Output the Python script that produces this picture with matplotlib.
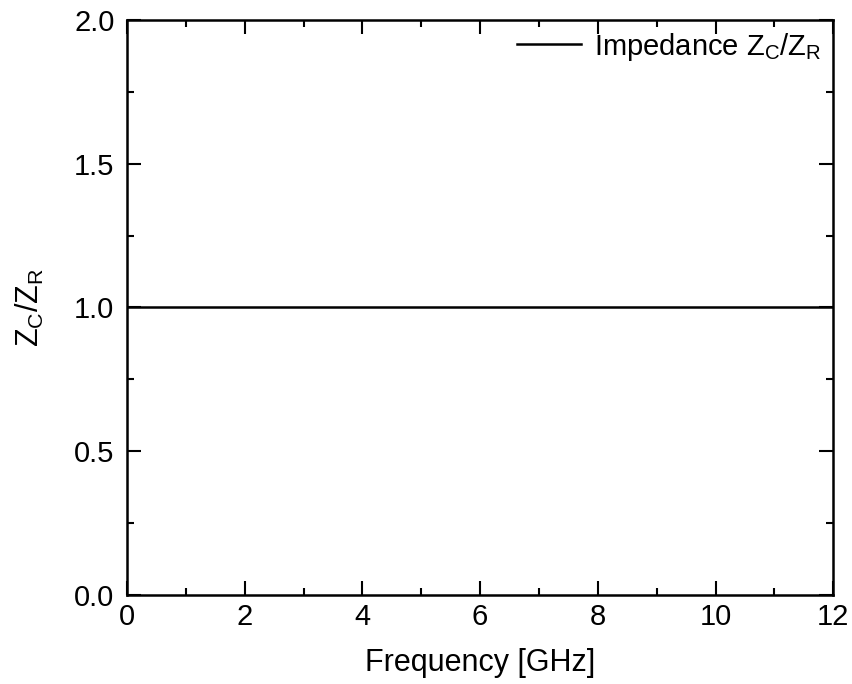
import matplotlib.pyplot as plt
from matplotlib.ticker import MultipleLocator

plt.rcParams['font.family'] = ['Liberation Sans', 'DejaVu Sans']
plt.rcParams['mathtext.fontset'] = 'custom'
plt.rcParams['mathtext.rm'] = 'Liberation Sans'
plt.rcParams['mathtext.it'] = 'Liberation Sans'

# Data: ratio of characteristic to reference impedance vs frequency
freq_ghz = [0, 1, 2, 3, 4, 5, 6, 7, 8, 9, 10, 11, 12]
z_ratio = [1.0, 1.0, 1.0, 1.0, 1.0, 1.0, 1.0, 1.0, 1.0, 1.0, 1.0, 1.0, 1.0]

fig = plt.figure(figsize=(8.52, 6.84), dpi=100)
ax = fig.add_axes([0.149, 0.130, 0.829, 0.841])

ax.plot(freq_ghz, z_ratio, color='black', lw=1.8, label=r'Impedance Z$_\mathrm{C}$/Z$_\mathrm{R}$')

ax.set_xlim(0, 12)
ax.set_ylim(0, 2.0)
ax.xaxis.set_major_locator(MultipleLocator(2))
ax.xaxis.set_minor_locator(MultipleLocator(1))
ax.yaxis.set_major_locator(MultipleLocator(0.5))
ax.yaxis.set_minor_locator(MultipleLocator(0.25))
ax.yaxis.set_major_formatter(plt.FormatStrFormatter('%.1f'))

ax.tick_params(which='both', direction='in', top=True, right=True, width=1.5, labelsize=21)
ax.tick_params(which='major', length=10)
ax.tick_params(which='minor', length=5)
ax.tick_params(axis='y', which='major', pad=9)
ax.tick_params(axis='x', which='major', pad=6)
for s in ax.spines.values():
    s.set_linewidth(1.8)

ax.set_xlabel('Frequency [GHz]', fontsize=22, labelpad=12)
ax.set_ylabel(r'Z$_\mathrm{C}$/Z$_\mathrm{R}$', fontsize=22, labelpad=20)

ax.legend(loc='upper right', bbox_to_anchor=(0.994, 0.994), frameon=False, fontsize=21,
          handlelength=2.2, handletextpad=0.45, borderaxespad=0.0, borderpad=0.25)

fig.savefig('out.png', dpi=100)
